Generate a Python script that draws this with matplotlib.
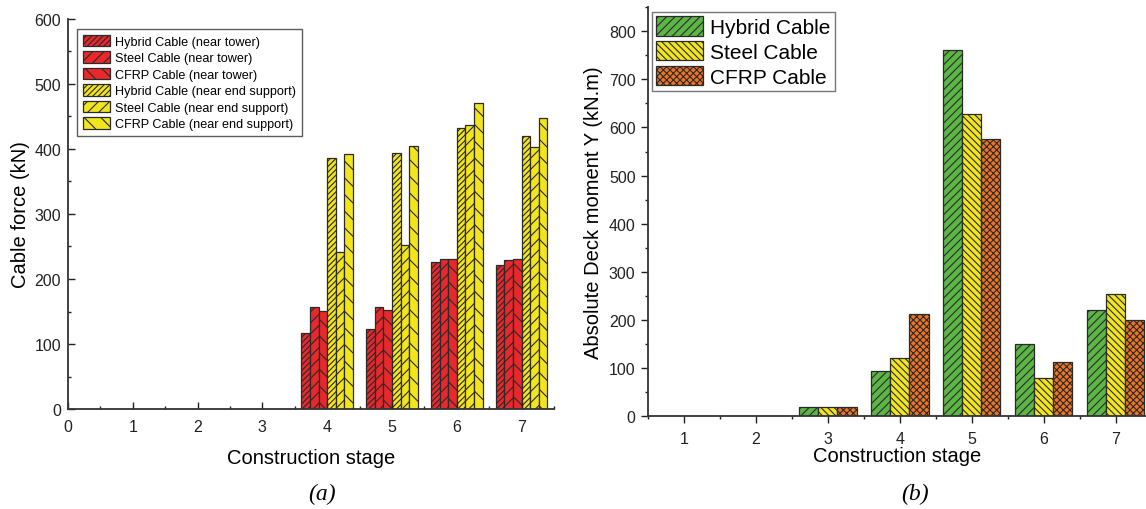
import numpy as np
import matplotlib
matplotlib.use('Agg')
import matplotlib.pyplot as plt
from matplotlib.ticker import MultipleLocator

plt.rcParams['font.family'] = ['Liberation Sans', 'DejaVu Sans']
plt.rcParams['hatch.linewidth'] = 0.8

# (a) cable forces per construction stage
stages_a = [1, 2, 3, 4, 5, 6, 7]
hybrid_tower = [0, 0, 0, 117, 123, 226, 221]
steel_tower = [0, 0, 0, 157, 157, 231, 229]
cfrp_tower = [0, 0, 0, 151, 152, 231, 230]
hybrid_end = [0, 0, 0, 386, 393, 432, 420]
steel_end = [0, 0, 0, 241, 252, 437, 403]
cfrp_end = [0, 0, 0, 392, 405, 470, 447]

# (b) absolute deck moment
stages_b = [1, 2, 3, 4, 5, 6, 7]
moment_hybrid = [0, 0, 20, 94, 760, 150, 221]
moment_steel = [0, 0, 20, 120, 627, 80, 253]
moment_cfrp = [0, 0, 20, 213, 577, 113, 199]

RED = '#e8282a'
YELLOW = '#f2e51c'
GREEN = '#5cb646'
ORANGE = '#ef7422'
EDGE = '#2a2a2a'
SERIF = ['Liberation Serif', 'DejaVu Serif']

fig = plt.figure(figsize=(11.46, 5.10), dpi=100)

# ---- panel (a)
ax1 = fig.add_axes([0.0593, 0.196, 0.4241, 0.765])
series_a = [
    (hybrid_tower, RED, '//////', 'Hybrid Cable (near tower)'),
    (steel_tower, RED, '///', 'Steel Cable (near tower)'),
    (cfrp_tower, RED, '\\\\', 'CFRP Cable (near tower)'),
    (hybrid_end, YELLOW, '//////', 'Hybrid Cable (near end support)'),
    (steel_end, YELLOW, '///', 'Steel Cable (near end support)'),
    (cfrp_end, YELLOW, '\\\\', 'CFRP Cable (near end support)'),
]
w = 0.133
x = np.array(stages_a, dtype=float)
for i, (vals, col, hatch, lab) in enumerate(series_a):
    ax1.bar(x + (i - 2.5) * w, vals, width=w, color=col, edgecolor=EDGE,
            linewidth=0.9, hatch=hatch, label=lab)
ax1.set_xlim(0, 7.5)
ax1.set_ylim(0, 600)
ax1.xaxis.set_major_locator(MultipleLocator(1))
ax1.xaxis.set_minor_locator(MultipleLocator(0.5))
ax1.yaxis.set_major_locator(MultipleLocator(100))
ax1.yaxis.set_minor_locator(MultipleLocator(50))
ax1.tick_params(which='both', direction='in', labelsize=11.5, colors='#222222')
ax1.tick_params(which='major', length=5, width=1)
ax1.tick_params(which='minor', length=2.5, width=1)
ax1.tick_params(axis='x', pad=7.5)
ax1.tick_params(axis='y', pad=5)
for s in ['top', 'right']:
    ax1.spines[s].set_visible(False)
for s in ['left', 'bottom']:
    ax1.spines[s].set_linewidth(1.3)
    ax1.spines[s].set_color('#333333')
ax1.set_xlabel('Construction stage', fontsize=14.5, labelpad=10)
ax1.set_ylabel('Cable force (kN)', fontsize=14.5, labelpad=3)
leg1 = ax1.legend(loc='upper left', bbox_to_anchor=(0.0185, 0.974),
                  borderaxespad=0, fontsize=9.1,
                  frameon=True, fancybox=False, edgecolor='#333333',
                  handlelength=2.2, handleheight=1.0, labelspacing=0.28,
                  handletextpad=0.35, borderpad=0.45)
leg1.get_frame().set_linewidth(1.0)

# ---- panel (b)
ax2 = fig.add_axes([0.5655, 0.182, 0.4345, 0.802])
series_b = [
    (moment_hybrid, GREEN, '////', 'Hybrid Cable'),
    (moment_steel, YELLOW, '\\\\\\\\\\', 'Steel Cable'),
    (moment_cfrp, ORANGE, 'xxxxx', 'CFRP Cable'),
]
wb = 0.265
xb = np.array(stages_b, dtype=float)
for i, (vals, col, hatch, lab) in enumerate(series_b):
    ax2.bar(xb + (i - 1) * wb, vals, width=wb, color=col, edgecolor=EDGE,
            linewidth=0.9, hatch=hatch, label=lab)
ax2.set_xlim(0.5, 7.42)
ax2.set_ylim(0, 850)
ax2.xaxis.set_major_locator(MultipleLocator(1))
ax2.xaxis.set_minor_locator(MultipleLocator(0.5))
ax2.yaxis.set_major_locator(MultipleLocator(100))
ax2.yaxis.set_minor_locator(MultipleLocator(50))
ax2.tick_params(which='both', direction='out', labelsize=11.5, colors='#222222')
ax2.tick_params(which='major', length=5, width=1)
ax2.tick_params(which='minor', length=2.5, width=1)
ax2.tick_params(axis='x', pad=5.5)
ax2.tick_params(axis='y', pad=4)
for s in ['top', 'right']:
    ax2.spines[s].set_visible(False)
for s in ['left', 'bottom']:
    ax2.spines[s].set_linewidth(1.3)
    ax2.spines[s].set_color('#333333')
ax2.set_xlabel('Construction stage', fontsize=14.5, labelpad=0.5)
ax2.set_ylabel('Absolute Deck moment Y (kN.m)', fontsize=14.5, labelpad=4)
leg2 = ax2.legend(loc='upper left', bbox_to_anchor=(0.008, 0.988),
                  borderaxespad=0, fontsize=15,
                  frameon=True, fancybox=False, edgecolor='#555555',
                  handlelength=2.25, handleheight=1.05, labelspacing=0.2,
                  handletextpad=0.35, borderpad=0.2)
leg2.get_frame().set_linewidth(1.0)

fig.text(0.281, 0.03, '(a)', fontsize=17, style='italic', family=SERIF,
         ha='center', va='center')
fig.text(0.798, 0.03, '(b)', fontsize=17, style='italic', family=SERIF,
         ha='center', va='center')

fig.savefig('out.png', dpi=100, facecolor='white')
